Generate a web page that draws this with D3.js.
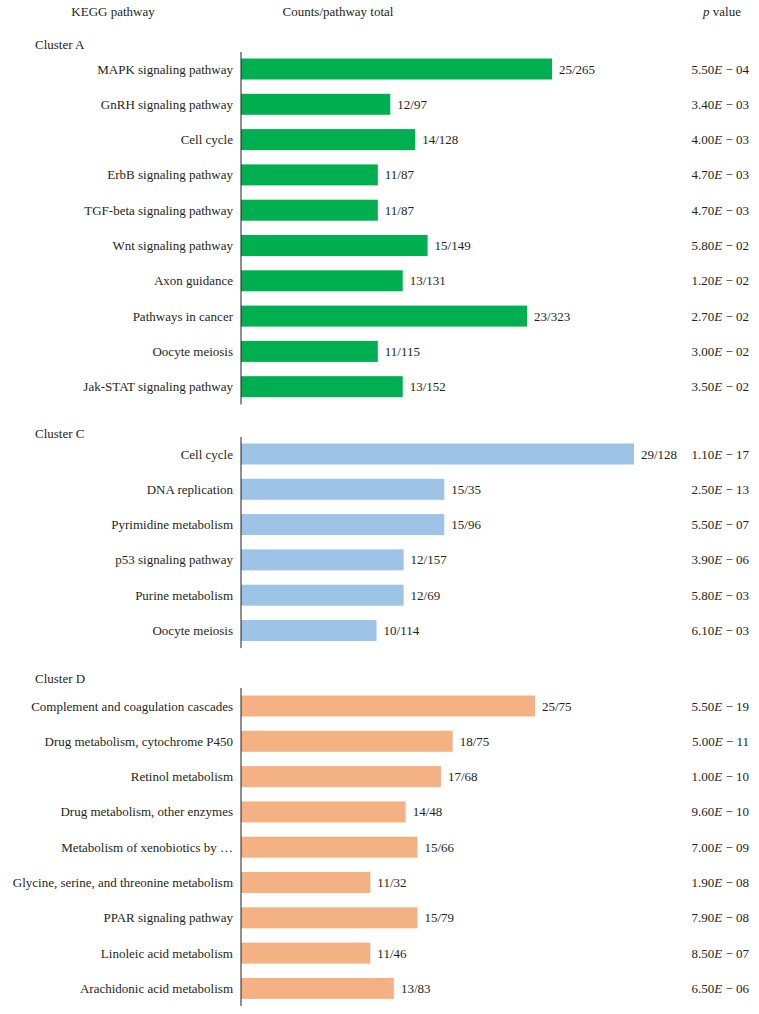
<!DOCTYPE html>
<html>
<head>
<meta charset="utf-8">
<script src="https://cdn.jsdelivr.net/npm/d3@7"></script>
<style>
  body { margin: 0; background: #fff; }
  text { font-family: "Liberation Serif", "DejaVu Serif", serif; font-size: 13px; fill: #231f20; }
</style>
</head>
<body>
<script>
// cluster A
const pathwaysA = ['MAPK signaling pathway', 'GnRH signaling pathway', 'Cell cycle', 'ErbB signaling pathway',
  'TGF-beta signaling pathway', 'Wnt signaling pathway', 'Axon guidance', 'Pathways in cancer',
  'Oocyte meiosis', 'Jak-STAT signaling pathway']
const countsA = [25, 12, 14, 11, 11, 15, 13, 23, 11, 13]
const totalsA = [265, 97, 128, 87, 87, 149, 131, 323, 115, 152]
const pvalsA = ['5.50|04', '3.40|03', '4.00|03', '4.70|03', '4.70|03', '5.80|02', '1.20|02', '2.70|02', '3.00|02', '3.50|02']

// cluster C
const pathwaysC = ['Cell cycle', 'DNA replication', 'Pyrimidine metabolism', 'p53 signaling pathway',
  'Purine metabolism', 'Oocyte meiosis']
const countsC = [29, 15, 15, 12, 12, 10]
const totalsC = [128, 35, 96, 157, 69, 114]
const pvalsC = ['1.10|17', '2.50|13', '5.50|07', '3.90|06', '5.80|03', '6.10|03']

// cluster D
const pathwaysD = ['Complement and coagulation cascades', 'Drug metabolism, cytochrome P450', 'Retinol metabolism',
  'Drug metabolism, other enzymes', 'Metabolism of xenobiotics by \u2026', 'Glycine, serine, and threonine metabolism',
  'PPAR signaling pathway', 'Linoleic acid metabolism', 'Arachidonic acid metabolism']
const countsD = [25, 18, 17, 14, 15, 11, 15, 11, 13]
const totalsD = [75, 75, 68, 48, 66, 32, 79, 46, 83]
const pvalsD = ['5.50|19', '5.00|11', '1.00|10', '9.60|10', '7.00|09', '1.90|08', '7.90|08', '8.50|07', '6.50|06']

const width = 759, height = 1014
const axisX = 241, pRight = 749, rowStep = 35.3, barH = 21

const svg = d3.select('body').append('svg')
  .attr('width', width)
  .attr('height', height)

// header
svg.append('text').attr('x', 113).attr('y', 16).attr('text-anchor', 'middle').text('KEGG pathway')
svg.append('text').attr('x', 338).attr('y', 16).attr('text-anchor', 'middle').text('Counts/pathway total')
let ph = svg.append('text').attr('x', 722).attr('y', 16).attr('text-anchor', 'middle')
ph.append('tspan').style('font-style', 'italic').text('p')
ph.append('tspan').text(' value')

const clusters = [
  {name: 'Cluster A', names: pathwaysA, counts: countsA, totals: totalsA, pvals: pvalsA,
   color: '#00b050', labelY: 49, firstY: 69, axisTop: 52, maxPx: 311},
  {name: 'Cluster C', names: pathwaysC, counts: countsC, totals: totalsC, pvals: pvalsC,
   color: '#9dc3e6', labelY: 438, firstY: 454, axisTop: 437, maxPx: 393},
  {name: 'Cluster D', names: pathwaysD, counts: countsD, totals: totalsD, pvals: pvalsD,
   color: '#f4b183', labelY: 683, firstY: 706, axisTop: 688, maxPx: 294}
]

clusters.forEach(c => {
  let n = c.names.length
  let x = d3.scaleLinear().domain([0, d3.max(c.counts)]).range([axisX, axisX + c.maxPx])
  let y = d3.scaleBand().domain(d3.range(n))
    .range([c.firstY - rowStep / 2, c.firstY - rowStep / 2 + n * rowStep])
    .paddingInner(1 - barH / rowStep).paddingOuter((1 - barH / rowStep) / 2)

  let g = svg.append('g')
  g.append('text').attr('x', 35).attr('y', c.labelY).text(c.name)

  let rows = g.selectAll('g.row').data(d3.range(n)).join('g').attr('class', 'row')

  rows.append('rect')
    .attr('x', axisX)
    .attr('y', i => y(i))
    .attr('width', i => x(c.counts[i]) - axisX)
    .attr('height', y.bandwidth())
    .style('fill', c.color)

  rows.append('text')
    .attr('x', axisX - 8)
    .attr('y', i => y(i) + y.bandwidth() / 2)
    .attr('dy', '0.35em')
    .attr('text-anchor', 'end')
    .text(i => c.names[i])

  rows.append('text')
    .attr('x', i => x(c.counts[i]) + 7)
    .attr('y', i => y(i) + y.bandwidth() / 2)
    .attr('dy', '0.35em')
    .text(i => c.counts[i] + '/' + c.totals[i])

  let pt = rows.append('text')
    .attr('x', pRight)
    .attr('y', i => y(i) + y.bandwidth() / 2)
    .attr('dy', '0.35em')
    .attr('text-anchor', 'end')
  pt.append('tspan').text(i => c.pvals[i].split('|')[0])
  pt.append('tspan').style('font-style', 'italic').text('E')
  pt.append('tspan').text(i => ' \u2212 ' + c.pvals[i].split('|')[1])

  let yEnd = c.firstY + (n - 1) * rowStep + rowStep / 2
  g.append('line')
    .attr('x1', axisX).attr('x2', axisX)
    .attr('y1', c.axisTop).attr('y2', yEnd)
    .style('stroke', '#231f20').style('stroke-width', 1)
})
</script>
</body>
</html>
